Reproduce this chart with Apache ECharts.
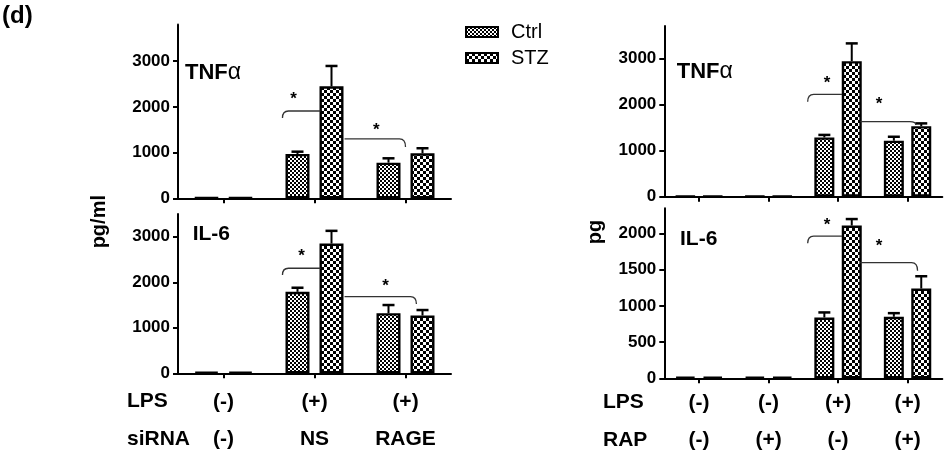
<!DOCTYPE html>
<html>
<head>
<meta charset="utf-8">
<script src="https://cdn.jsdelivr.net/npm/echarts@6/dist/echarts.min.js"></script>
<style>html,body{margin:0;padding:0;background:#fff}#c{width:945px;height:456px}</style>
</head>
<body>
<div id="c"></div>
<script>
// ---------------- data ----------------
const leftLPS   = ['(-)', '(+)', '(+)'];
const leftSiRNA = ['(-)', 'NS', 'RAGE'];
const rightLPS  = ['(-)', '(-)', '(+)', '(+)'];
const rightRAP  = ['(-)', '(+)', '(-)', '(+)'];

const leftTnfCtrl    = [10, 970, 780];
const leftTnfCtrlErr = [0, 50, 95];
const leftTnfStz     = [10, 2450, 985];
const leftTnfStzErr  = [0, 445, 110];

const leftIl6Ctrl    = [30, 1790, 1320];
const leftIl6CtrlErr = [0, 90, 180];
const leftIl6Stz     = [30, 2850, 1270];
const leftIl6StzErr  = [0, 280, 120];

const rightTnfCtrl    = [10, 10, 1285, 1215];
const rightTnfCtrlErr = [0, 0, 55, 85];
const rightTnfStz     = [10, 10, 2940, 1530];
const rightTnfStzErr  = [0, 0, 385, 60];

const rightIl6Ctrl    = [20, 20, 840, 850];
const rightIl6CtrlErr = [0, 0, 70, 50];
const rightIl6Stz     = [20, 20, 2110, 1240];
const rightIl6StzErr  = [0, 0, 90, 170];

const ticks3000 = [0, 1000, 2000, 3000];
const ticks2000 = [0, 500, 1000, 1500, 2000];

// significance brackets: [category, value] anchors
const leftTnfSig  = [
  {hook:'start', c0:1, f0:-0.352, c1:1, f1:0.066, level:1910, hookV:1757, sc:1, sf:-0.23, sv:2282},
  {hook:'end',   c0:1, f0:0.33,   c1:2, f1:0.0,   level:1298, hookV:1123, sc:2, sf:-0.32, sv:1604}
];
const leftIl6Sig  = [
  {hook:'start', c0:1, f0:-0.352, c1:1, f1:0.066, level:2308, hookV:2160, sc:1, sf:-0.143, sv:2672},
  {hook:'end',   c0:1, f0:0.33,   c1:2, f1:0.12,  level:1684, hookV:1523, sc:2, sf:-0.22, sv:2029}
];
const rightTnfSig = [
  {hook:'start', c0:2, f0:-0.437, c1:2, f1:0.058, level:2221, hookV:2061, sc:2, sf:-0.158, sv:2575},
  {hook:'end',   c0:2, f0:0.32,   c1:3, f1:0.12,  level:1627, hookV:1555, sc:3, sf:-0.41, sv:2119}
];
const rightIl6Sig = [
  {hook:'start', c0:2, f0:-0.437, c1:2, f1:0.058, level:1965, hookV:1865, sc:2, sf:-0.158, sv:2186},
  {hook:'end',   c0:2, f0:0.32,   c1:3, f1:0.144, level:1597, hookV:1486, sc:3, sf:-0.41, sv:1896}
];

// ---------------- styling helpers ----------------
const FONT = '"Liberation Sans", Arial, sans-serif';
function checker(cell) {
  const c = document.createElement('canvas');
  c.width = c.height = cell * 2;
  const x = c.getContext('2d');
  x.fillStyle = '#fff'; x.fillRect(0, 0, cell * 2, cell * 2);
  x.fillStyle = '#000';
  x.fillRect(0, 0, cell, cell); x.fillRect(cell, cell, cell, cell);
  return c;
}
const ctrlFill = {image: checker(2), repeat: 'repeat'};
const stzFill  = {image: checker(3), repeat: 'repeat'};

const leftCats  = leftLPS.map((v, i) => v + '\n' + leftSiRNA[i]);
const rightCats = rightLPS.map((v, i) => v + '\n' + rightRAP[i]);

const grids = [
  {left: 178,   top: 24.6,  width: 273, height: 173.7},
  {left: 178,   top: 214,   width: 273, height: 159.3},
  {left: 664.3, top: 26.1,  width: 278, height: 170.6},
  {left: 664.3, top: 208.2, width: 278, height: 170.1}
];
const yMax = [3800, 3500, 3700, 2350];
const yTicks = [ticks3000, ticks3000, ticks3000, ticks2000];
const cats = [leftCats, leftCats, rightCats, rightCats];
const showX = [false, true, false, true];
const xLabelMargin = [10, 10, 6, 6];

const xAxes = grids.map((g, i) => ({
  type: 'category', gridIndex: i, data: cats[i], boundaryGap: true,
  axisLine: {lineStyle: {color: '#000', width: 2}},
  axisTick: {show: true, alignWithLabel: true, length: 5, lineStyle: {color: '#000', width: 2}},
  axisLabel: {show: showX[i], interval: 0, color: '#000', fontFamily: FONT, fontWeight: 'bold',
              fontSize: 21, lineHeight: 37, margin: xLabelMargin[i]},
  splitLine: {show: false}
}));
const yAxes = grids.map((g, i) => ({
  type: 'value', gridIndex: i, min: 0, max: yMax[i],
  axisLine: {show: true, lineStyle: {color: '#000', width: 2}},
  axisTick: {show: true, length: 5, lineStyle: {color: '#000', width: 2}, customValues: yTicks[i]},
  axisLabel: {color: '#000', fontFamily: FONT, fontWeight: 'bold', fontSize: 17, margin: 8,
              customValues: yTicks[i], formatter: v => String(v)},
  splitLine: {show: false}
}));

const panels = [
  {ctrl: leftTnfCtrl,  ctrlErr: leftTnfCtrlErr,  stz: leftTnfStz,  stzErr: leftTnfStzErr,  bw: 24, gap: 10, sig: leftTnfSig},
  {ctrl: leftIl6Ctrl,  ctrlErr: leftIl6CtrlErr,  stz: leftIl6Stz,  stzErr: leftIl6StzErr,  bw: 24, gap: 10, sig: leftIl6Sig},
  {ctrl: rightTnfCtrl, ctrlErr: rightTnfCtrlErr, stz: rightTnfStz, stzErr: rightTnfStzErr, bw: 20, gap: 7.4, sig: rightTnfSig},
  {ctrl: rightIl6Ctrl, ctrlErr: rightIl6CtrlErr, stz: rightIl6Stz, stzErr: rightIl6StzErr, bw: 20, gap: 7.4, sig: rightIl6Sig}
];

const series = [];
panels.forEach((p, i) => {
  const barCommon = {
    type: 'bar', xAxisIndex: i, yAxisIndex: i, barWidth: p.bw,
    barGap: (p.gap / p.bw * 100) + '%', emphasis: {disabled: true}, silent: true
  };
  series.push(Object.assign({}, barCommon, {name: 'Ctrl', data: p.ctrl,
    itemStyle: {color: ctrlFill, borderColor: '#000', borderWidth: 2.4}}));
  series.push(Object.assign({}, barCommon, {name: 'STZ', data: p.stz,
    itemStyle: {color: stzFill, borderColor: '#000', borderWidth: 2.4}}));
  [[p.ctrl, p.ctrlErr, -1], [p.stz, p.stzErr, 1]].forEach(([vals, errs, sign]) => {
    series.push({
      type: 'custom', name: 'err', xAxisIndex: i, yAxisIndex: i, silent: true, clip: false, z: 3,
      data: vals.map((v, k) => [k, v, errs[k]]),
      renderItem: function (params, api) {
        const e = api.value(2);
        if (!e) return null;
        const k = api.value(0), v = api.value(1);
        const p0 = api.coord([k, v]), p1 = api.coord([k, v + e]);
        const x = p0[0] + sign * (p.bw + p.gap) / 2;
        return {type: 'group', children: [
          {type: 'line', shape: {x1: x, y1: p0[1], x2: x, y2: p1[1]}, style: {stroke: '#000', lineWidth: 2}},
          {type: 'line', shape: {x1: x - 6, y1: p1[1], x2: x + 6, y2: p1[1]}, style: {stroke: '#000', lineWidth: 2.5}}
        ]};
      }
    });
  });
  series.push({
    type: 'custom', name: 'sig', xAxisIndex: i, yAxisIndex: i, silent: true, clip: false, z: 4,
    data: p.sig.map(b => [b.c0, b.level]),
    renderItem: function (params, api) {
      const b = p.sig[params.dataIndex];
      const band = api.size([1, 0])[0];
      const xp = (c, f) => api.coord([c, 0])[0] + f * band;
      const yp = v => api.coord([0, v])[1];
      const x0 = xp(b.c0, b.f0), x1 = xp(b.c1, b.f1), yl = yp(b.level), yh = yp(b.hookV);
      const r = 6;
      let d;
      if (b.hook === 'start') d = `M${x0} ${yh} Q${x0} ${yl} ${x0 + r} ${yl} L${x1} ${yl}`;
      else d = `M${x0} ${yl} L${x1 - r} ${yl} Q${x1} ${yl} ${x1} ${yh}`;
      return {type: 'group', children: [
        {type: 'path', shape: {pathData: d}, style: {stroke: '#333', lineWidth: 1.3, fill: null}},
        {type: 'text', x: xp(b.sc, b.sf), y: yp(b.sv) + 5,
         style: {text: '*', fill: '#000', font: 'bold 17px ' + FONT, align: 'center', verticalAlign: 'middle'}}
      ]};
    }
  });
});

const labelStyle = (txt, size, weight) => ({text: txt, fill: '#000', font: `${weight} ${size}px ${FONT}`});
const graphics = [
  {type: 'text', left: 2, top: 4, style: labelStyle('(d)', 24, 'bold')},
  {type: 'text', x: 99, y: 221.7, rotation: Math.PI / 2,
   style: Object.assign(labelStyle('pg/ml', 20, 'bold'), {align: 'center', verticalAlign: 'middle'})},
  {type: 'text', x: 595, y: 232, rotation: Math.PI / 2,
   style: Object.assign(labelStyle('pg', 20, 'bold'), {align: 'center', verticalAlign: 'middle'})},
  {type: 'text', x: 185, y: 72.7, style: {text: '{b|TNF}{a|α}', verticalAlign: 'middle',
    rich: {b: {font: `bold 22px ${FONT}`, fill: '#000'}, a: {font: `23px ${FONT}`, fill: '#000'}}}},
  {type: 'text', x: 676.7, y: 71.7, style: {text: '{b|TNF}{a|α}', verticalAlign: 'middle',
    rich: {b: {font: `bold 22px ${FONT}`, fill: '#000'}, a: {font: `23px ${FONT}`, fill: '#000'}}}},
  {type: 'text', x: 192.7, y: 234.3, style: Object.assign(labelStyle('IL-6', 21, 'bold'), {verticalAlign: 'middle'})},
  {type: 'text', x: 680, y: 239.3, style: Object.assign(labelStyle('IL-6', 21, 'bold'), {verticalAlign: 'middle'})},
  {type: 'text', x: 127, y: 401.7, style: Object.assign(labelStyle('LPS', 21, 'bold'), {verticalAlign: 'middle'})},
  {type: 'text', x: 127, y: 439, style: Object.assign(labelStyle('siRNA', 21, 'bold'), {verticalAlign: 'middle'})},
  {type: 'text', x: 603, y: 402.7, style: Object.assign(labelStyle('LPS', 21, 'bold'), {verticalAlign: 'middle'})},
  {type: 'text', x: 603, y: 440, style: Object.assign(labelStyle('RAP', 21, 'bold'), {verticalAlign: 'middle'})}
];

const chart = echarts.init(document.getElementById('c'), null, {renderer: 'canvas'});
chart.setOption({
  animation: false,
  backgroundColor: '#fff',
  grid: grids.map(g => Object.assign({outerBoundsMode: 'none', containLabel: false}, g)),
  xAxis: xAxes,
  yAxis: yAxes,
  legend: {
    data: ['Ctrl', 'STZ'], orient: 'vertical', left: 465, top: 22, padding: 0,
    itemWidth: 32, itemHeight: 10, itemGap: 6, icon: 'rect', selectedMode: false,
    textStyle: {color: '#000', fontFamily: FONT, fontSize: 20, padding: [0, 0, 0, 8]}
  },
  graphic: graphics,
  series: series
});
</script>
</body>
</html>
